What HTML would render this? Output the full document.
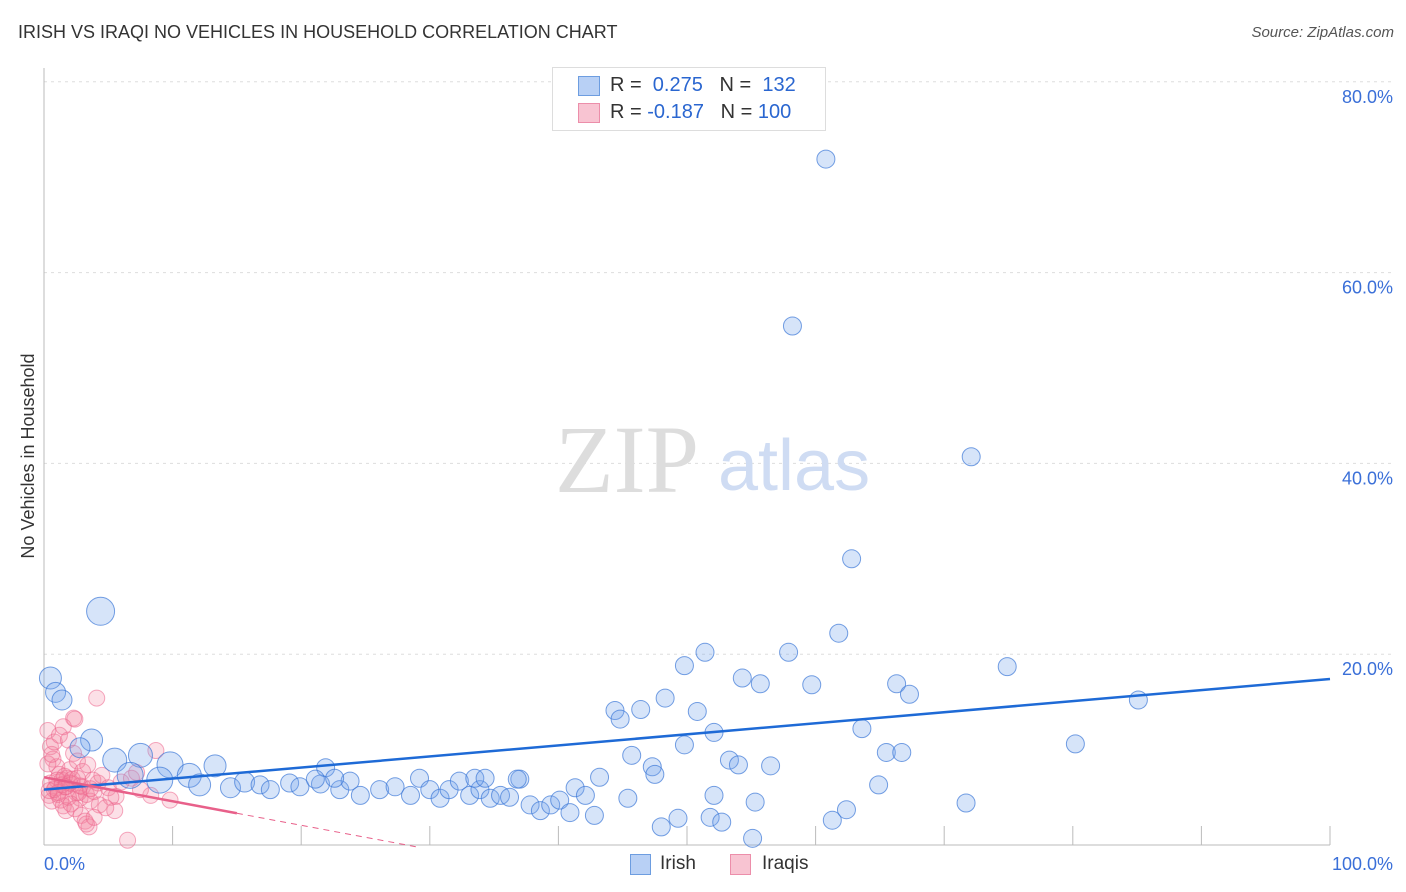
<!DOCTYPE html>
<html><head><meta charset="utf-8"><style>
body{margin:0;background:#fff;font-family:"Liberation Sans",sans-serif;}
#wrap{position:relative;width:1406px;height:892px;overflow:hidden;}
.t{position:absolute;white-space:nowrap;}
</style></head><body>
<div id="wrap">
<div class="t" style="left:18px;top:22px;font-size:18px;color:#333;">IRISH VS IRAQI NO VEHICLES IN HOUSEHOLD CORRELATION CHART</div>
<div class="t" style="right:12px;top:24px;font-size:15px;color:#555;font-style:italic;">Source: ZipAtlas.com</div>
<svg id="svg" width="1406" height="892" style="position:absolute;left:0;top:0;"></svg>
</div>
<script>
const yTicks=[20,40,60,80];
const xTickLabels=["0.0%","100.0%"];
const irishX=[0.5,0.9,1.4,4.4,3.7,2.8,5.5,7.5,9.8,13.3,6.7,9.0,11.3,12.1,14.5,15.6,16.8,17.6,19.1,19.9,21.5,21.9,23.0,23.8,24.6,26.1,27.3,28.5,29.2,30.0,30.8,31.5,32.3,33.1,33.9,34.7,35.5,36.2,37.0,37.8,38.6,39.4,40.1,40.9,41.3,42.1,42.8,43.2,44.4,44.8,45.4,45.7,46.4,47.3,47.5,48.0,48.3,49.3,49.8,49.8,50.8,51.8,52.1,51.4,52.1,52.7,53.3,54.0,54.3,55.1,55.3,55.7,56.5,57.9,58.2,59.7,60.8,61.3,61.8,62.4,62.8,63.6,64.9,65.5,66.3,66.7,67.3,71.7,72.1,74.9,80.2,85.1,21.1,22.6,33.5,34.3,36.8];
const irishY=[17.5,16.0,15.2,24.5,11.0,10.2,8.9,9.4,8.4,8.3,7.3,6.8,7.3,6.3,6.0,6.6,6.3,5.8,6.5,6.1,6.4,8.1,5.8,6.7,5.2,5.8,6.1,5.2,7.0,5.8,4.9,5.8,6.7,5.2,5.8,4.9,5.2,5.0,6.9,4.2,3.6,4.2,4.7,3.4,6.0,5.2,3.1,7.1,14.1,13.2,4.9,9.4,14.2,8.2,7.4,1.9,15.4,2.8,10.5,18.8,14.0,2.9,11.8,20.2,5.2,2.4,8.9,8.4,17.5,0.7,4.5,16.9,8.3,20.2,54.4,16.8,71.9,2.6,22.2,3.7,30.0,12.2,6.3,9.7,16.9,9.7,15.8,4.4,40.7,18.7,10.6,15.2,6.9,7.0,7.0,7.0,6.9];
const irishR=[11,10,10,14,11,10,12,12,13,11,13,13,12,11,10,10,9,9,9,9,9,9,9,9,9,9,9,9,9,9,9,9,9,9,9,9,9,9,9,9,9,9,9,9,9,9,9,9,9,9,9,9,9,9,9,9,9,9,9,9,9,9,9,9,9,9,9,9,9,9,9,9,9,9,9,9,9,9,9,9,9,9,9,9,9,9,9,9,9,9,9,9,9,9,9,9,9];
const iraqiX=[4.1,2.3,2.4,6.5,8.7,8.3,9.8,5.5,0.3,0.5,0.7,1.0,1.2,1.4,1.6,1.8,2.0,2.2,2.5,2.8,3.0,3.3,3.6,3.9,4.2,0.4,0.6,0.9,1.1,1.3,1.5,1.7,1.9,2.1,2.4,2.7,2.9,3.2,3.5,0.3,0.6,0.8,1.2,1.5,1.9,2.3,2.6,3.0,3.4,3.8,4.5,5.0,5.6,6.0,6.8,7.5,0.5,1.0,1.6,2.2,2.8,3.6,4.3,5.2,0.8,1.4,2.0,2.6,3.3,0.4,1.1,1.7,3.9,4.8,7.2];
const iraqiY=[15.4,13.3,13.2,0.5,9.9,5.2,4.7,3.6,12.0,10.3,9.0,8.2,7.4,6.8,6.1,7.0,7.9,6.4,5.5,4.9,6.1,5.3,4.6,5.6,6.5,5.2,4.6,6.0,5.3,4.7,4.1,3.6,5.0,4.3,3.8,5.5,3.1,2.5,1.9,8.5,9.5,10.8,11.5,12.4,11.0,9.6,8.8,7.7,8.4,6.8,7.3,6.0,5.1,6.6,7.0,5.8,6.5,6.8,7.2,6.9,6.2,5.9,4.2,5.0,5.8,6.3,6.5,7.0,2.2,5.7,5.5,6.1,2.9,3.9,7.6];
const irishLine=[5.8,17.4];
const iraqiLine=[7.1,-0.2];
const svg=document.getElementById('svg');
const NS='http://www.w3.org/2000/svg';
const X0=44,X1=1330,Y0=845,PY=9.54;
const sx=v=>X0+(X1-X0)*v/100, sy=v=>Y0-PY*v;
function mk(tag,at,parent){const e=document.createElementNS(NS,tag);for(const k in at)e.setAttribute(k,at[k]);(parent||svg).appendChild(e);return e;}
yTicks.forEach(v=>{const l=mk('line',{x1:X0,x2:1395,y1:sy(v),y2:sy(v),stroke:'#ddd','stroke-dasharray':'3,4'});


const t=mk('text',{x:1393,y:sy(v)+21,'text-anchor':'end','font-size':18,fill:'#3a6fd8','font-family':'Liberation Sans'});t.textContent=v.toFixed(1)+'%';

});
const ax=mk('line',{x1:X0,x2:X0,y1:68,y2:Y0,stroke:'#bbb'});


const bx=mk('line',{x1:X0,x2:X1,y1:Y0,y2:Y0,stroke:'#bbb'});


for(let i=1;i<=10;i++){const tk=mk('line',{x1:sx(i*10),x2:sx(i*10),y1:826,y2:Y0,stroke:'#bbb'});

}
const xl0=mk('text',{x:44,y:870,'font-size':18,fill:'#3a6fd8','font-family':'Liberation Sans'});xl0.textContent=xTickLabels[0];


const xl1=mk('text',{x:1393,y:870,'text-anchor':'end','font-size':18,fill:'#3a6fd8','font-family':'Liberation Sans'});xl1.textContent=xTickLabels[1];


const yt=mk('text',{x:34,y:456,'text-anchor':'middle','font-size':18,fill:'#333',transform:'rotate(-90 34 456)','font-family':'Liberation Sans'});yt.textContent='No Vehicles in Household';


const w1=mk('text',{x:555,y:492,'font-size':96,fill:'#ddd','font-family':'Liberation Serif'});w1.textContent='ZIP';


const w2=mk('text',{x:718,y:490,'font-size':72,fill:'#cfdcf3','font-family':'Liberation Sans'});w2.textContent='atlas';


iraqiX.forEach((x,i)=>{const c=mk('circle',{cx:sx(x),cy:sy(iraqiY[i]),r:8,fill:'rgba(244,130,160,0.25)',stroke:'rgba(236,100,140,0.55)','stroke-width':1});

});
irishX.forEach((x,i)=>{const c=mk('circle',{cx:sx(x),cy:sy(irishY[i]),r:irishR[i],fill:'rgba(120,165,235,0.3)',stroke:'rgba(60,120,215,0.7)','stroke-width':1});

});
const il=mk('line',{x1:sx(0),y1:sy(irishLine[0]),x2:sx(100),y2:sy(irishLine[1]),stroke:'#1e6ad6','stroke-width':2.5});


const f=x=>iraqiLine[0]+(iraqiLine[1]-iraqiLine[0])*x/29;
const pl=mk('line',{x1:sx(0),y1:sy(f(0)),x2:sx(15),y2:sy(f(15)),stroke:'#e8608a','stroke-width':2.5});


const pd=mk('line',{x1:sx(15),y1:sy(f(15)),x2:sx(29),y2:sy(f(29)),stroke:'#e8608a','stroke-width':1,'stroke-dasharray':'6,5'});


</script>
<div class="t" style="left:552px;top:67px;width:272px;height:62px;border:1px solid #ddd;background:#fff;"></div>
<div class="t" style="left:578px;top:76px;width:20px;height:18px;background:#b8d0f5;border:1px solid #6d9de0;"></div>
<div class="t" style="left:610px;top:74px;font-size:20px;color:#333;">R = &nbsp;<span style="color:#2a66d0">0.275</span> &nbsp;&nbsp;N = &nbsp;<span style="color:#2a66d0">132</span></div>
<div class="t" style="left:578px;top:103px;width:20px;height:18px;background:#f8c4d2;border:1px solid #ec8eaa;"></div>
<div class="t" style="left:610px;top:101px;font-size:20px;color:#333;">R = <span style="color:#2a66d0">-0.187</span> &nbsp;&nbsp;N = <span style="color:#2a66d0">100</span></div>
<div class="t" style="left:630px;top:854px;width:19px;height:19px;background:#b8d0f5;border:1px solid #6d9de0;"></div>
<div class="t" style="left:660px;top:853px;font-size:19px;color:#333;">Irish</div>
<div class="t" style="left:730px;top:854px;width:19px;height:19px;background:#f8c4d2;border:1px solid #ec8eaa;"></div>
<div class="t" style="left:762px;top:853px;font-size:19px;color:#333;">Iraqis</div>
</body></html>
